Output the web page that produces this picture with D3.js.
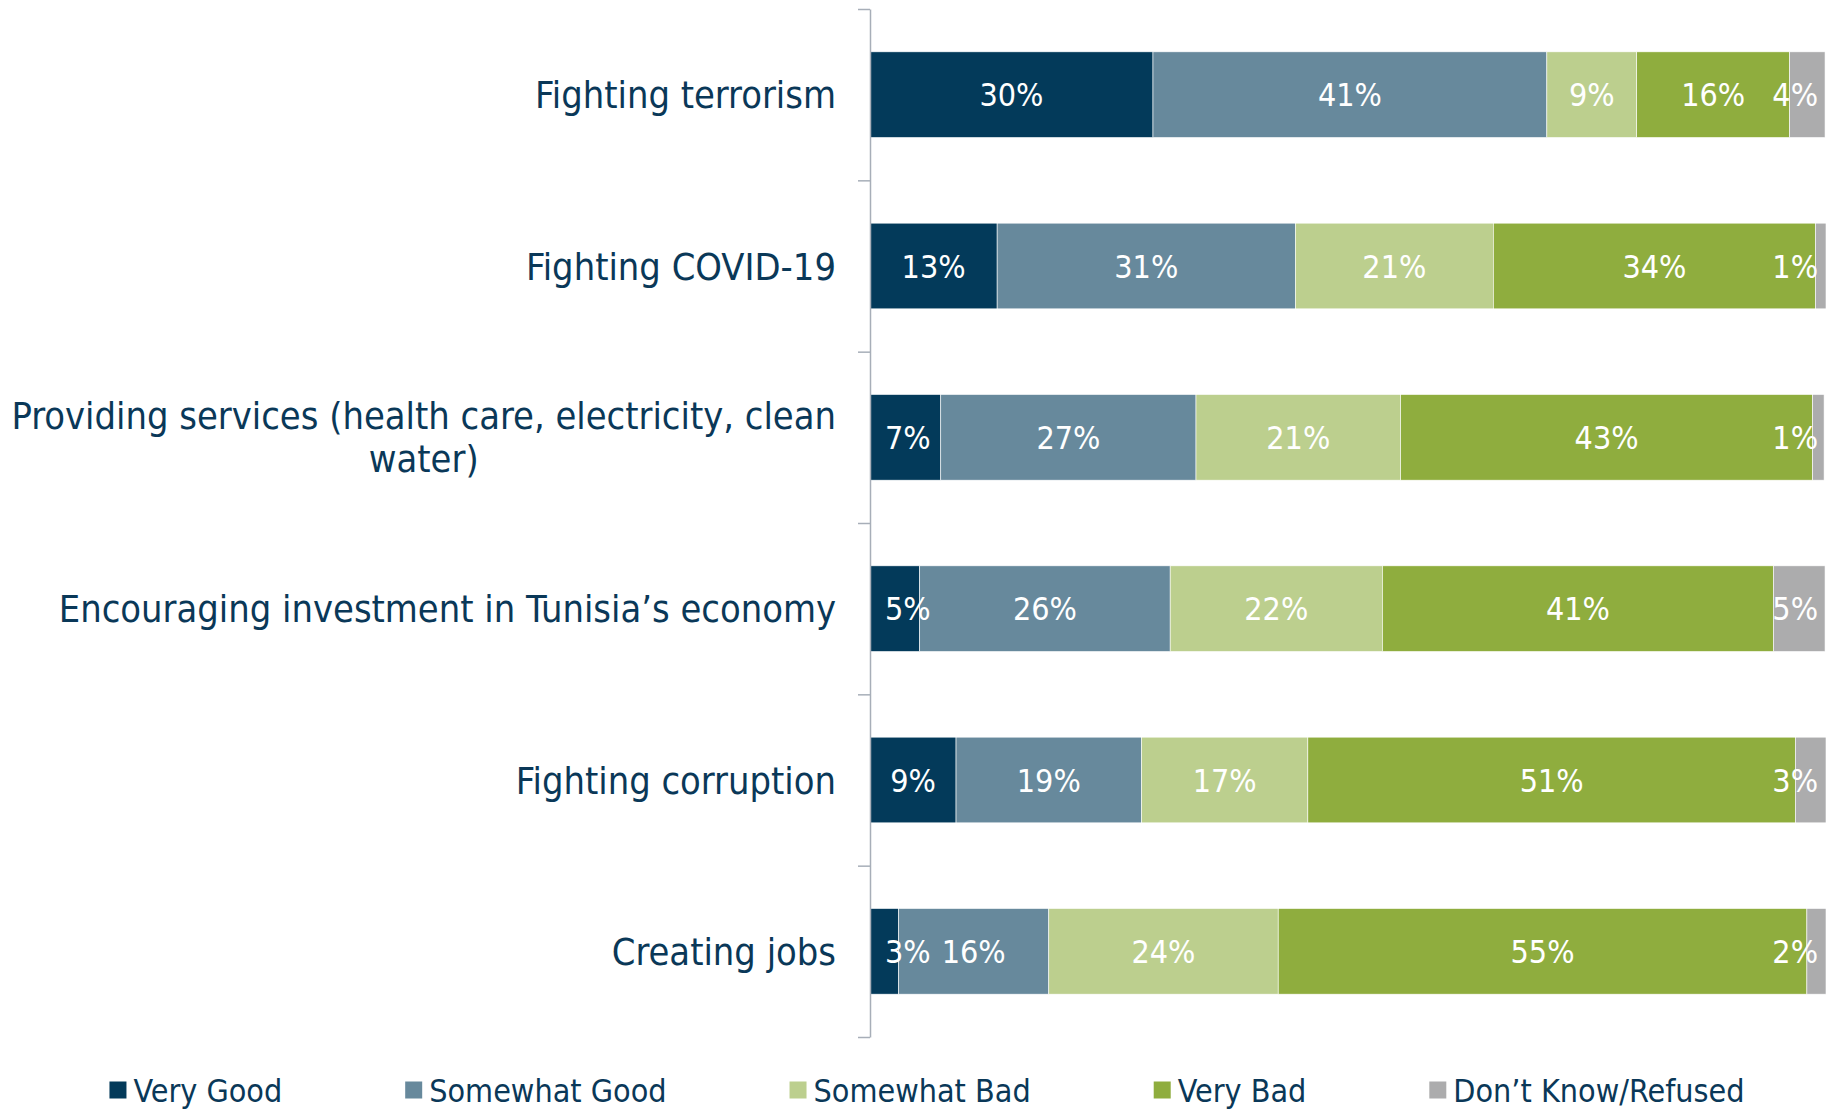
<!DOCTYPE html>
<html>
<head>
<meta charset="utf-8">
<script src="https://cdn.jsdelivr.net/npm/d3@7"></script>
<style>
  body{margin:0;background:#fff;}
  svg text{font-family:"DejaVu Sans Condensed","DejaVu Sans",sans-serif;}
</style>
</head>
<body>
<div id="chart"></div>
<script>
// categories, top to bottom
var categories=["Fighting terrorism","Fighting COVID-19","Providing services (health care, electricity, clean water)","Encouraging investment in Tunisia\u2019s economy","Fighting corruption","Creating jobs"];

// series values (percent)
var veryGood=[29.6,13.3,7.4,5.2,9.0,3.0];
var somewhatGood=[41.2,31.2,26.7,26.2,19.4,15.7];
var somewhatBad=[9.4,20.7,21.4,22.2,17.4,24.0];
var veryBad=[16.0,33.7,43.1,40.9,51.0,55.3];
var dontKnow=[3.7,1.1,1.2,5.4,3.2,2.0];

var seriesNames=["Very Good","Somewhat Good","Somewhat Bad","Very Bad","Don\u2019t Know/Refused"];
var colors=["#033a5a","#67899c","#bccf8e","#8fad3e","#acacad"];

var width=1831,height=1111;
var textColor="#0a3858";

var svg=d3.select("#chart").append("svg")
          .attr("width",width)
          .attr("height",height);

// build rows for the stack
var rows=categories.map(function(c,i){
  return {cat:c,"Very Good":veryGood[i],"Somewhat Good":somewhatGood[i],
          "Somewhat Bad":somewhatBad[i],"Very Bad":veryBad[i],
          "Don\u2019t Know/Refused":dontKnow[i]};
});
var stacked=d3.stack().keys(seriesNames)(rows);

//scales
var x=d3.scaleLinear().domain([0,100]).range([870,1826]);
var y=d3.scaleBand().domain(categories).range([9,1037]).paddingInner(0.5).paddingOuter(0.25);
var yb=d3.scaleLinear().domain([0,categories.length]).range([9,1037]);

//bars
var layers=svg.append("g").selectAll("g")
              .data(stacked)
              .enter()
              .append("g")
              .style("fill",function(d,i){return colors[i]});

layers.selectAll("rect")
      .data(function(d){return d})
      .enter()
      .append("rect")
      .attr("x",function(d){return x(d[0])})
      .attr("y",function(d){return y(d.data.cat)})
      .attr("width",function(d){return x(d[1])-x(d[0])})
      .attr("height",y.bandwidth())
      .style("stroke","#ffffff")
      .style("stroke-width",0.6);

//data labels, drawn on top of all bars
var labelLeft=885,labelRight=1818;
var labelLayers=svg.append("g").selectAll("g")
                   .data(stacked)
                   .enter()
                   .append("g");
labelLayers.selectAll("text")
      .data(function(d){return d})
      .enter()
      .append("text")
      .attr("x",function(d){return (x(d[0])+x(d[1]))/2})
      .attr("y",function(d){return y(d.data.cat)+y.bandwidth()/2})
      .attr("dy","0.36em")
      .attr("text-anchor","middle")
      .style("font-size","32px")
      .style("fill","#ffffff")
      .text(function(d){return Math.round(d[1]-d[0])+"%"})
      .each(function(){
        var t=d3.select(this);
        var w=this.getComputedTextLength();
        var cx=+t.attr("x");
        if(cx-w/2<labelLeft){cx=labelLeft+w/2}
        if(cx+w/2>labelRight){cx=labelRight-w/2}
        t.attr("x",cx);
      });

//axis with ticks between categories
var axis=svg.append("g")
            .attr("transform","translate(870,0)")
            .call(d3.axisLeft(yb).tickValues(d3.range(categories.length+1)).tickSize(12).tickSizeOuter(0).tickFormat(""));
axis.selectAll("path,line").style("stroke","#a7aeb8").style("stroke-width",1.5);

//category labels, wrapped, block right aligned
var labelX=836,maxW=860,lineH=43,catSize="37.7px";
categories.forEach(function(c){
  var g=svg.append("g");
  var words=c.split(" ");
  var lines=[],cur="";
  var probe=g.append("text").style("font-size",catSize);
  words.forEach(function(wd){
    var test=cur?cur+" "+wd:wd;
    probe.text(test);
    if(probe.node().getComputedTextLength()>maxW && cur){lines.push(cur);cur=wd}
    else{cur=test}
  });
  lines.push(cur);
  var widths=lines.map(function(l){probe.text(l);return probe.node().getComputedTextLength()});
  probe.remove();
  var blockW=d3.max(widths);
  var cy=y(c)+y.bandwidth()/2;
  lines.forEach(function(l,i){
    g.append("text")
     .attr("x",labelX-blockW/2)
     .attr("y",cy+(i-(lines.length-1)/2)*lineH)
     .attr("dy","0.36em")
     .attr("text-anchor","middle")
     .style("font-size",catSize)
     .style("fill",textColor)
     .text(l);
  });
});

//legend
var legend=svg.append("g");
var gap=123,sq=17,legY=1090;
var items=legend.selectAll("g")
                .data(seriesNames)
                .enter()
                .append("g");
items.append("rect")
     .attr("width",sq)
     .attr("height",sq)
     .attr("y",legY-sq/2)
     .style("fill",function(d,i){return colors[i]});
items.append("text")
     .attr("x",sq+7)
     .attr("y",legY)
     .attr("dy","0.36em")
     .style("font-size","32px")
     .style("fill",textColor)
     .text(function(d){return d});
var pos=0,offsets=[];
items.each(function(){
  var w=d3.select(this).select("text").node().getComputedTextLength()+sq+7;
  offsets.push(pos);
  pos+=w+gap;
});
var total=pos-gap,start=927-total/2;
items.attr("transform",function(d,i){return "translate("+(start+offsets[i])+",0)"});
</script>
</body>
</html>
